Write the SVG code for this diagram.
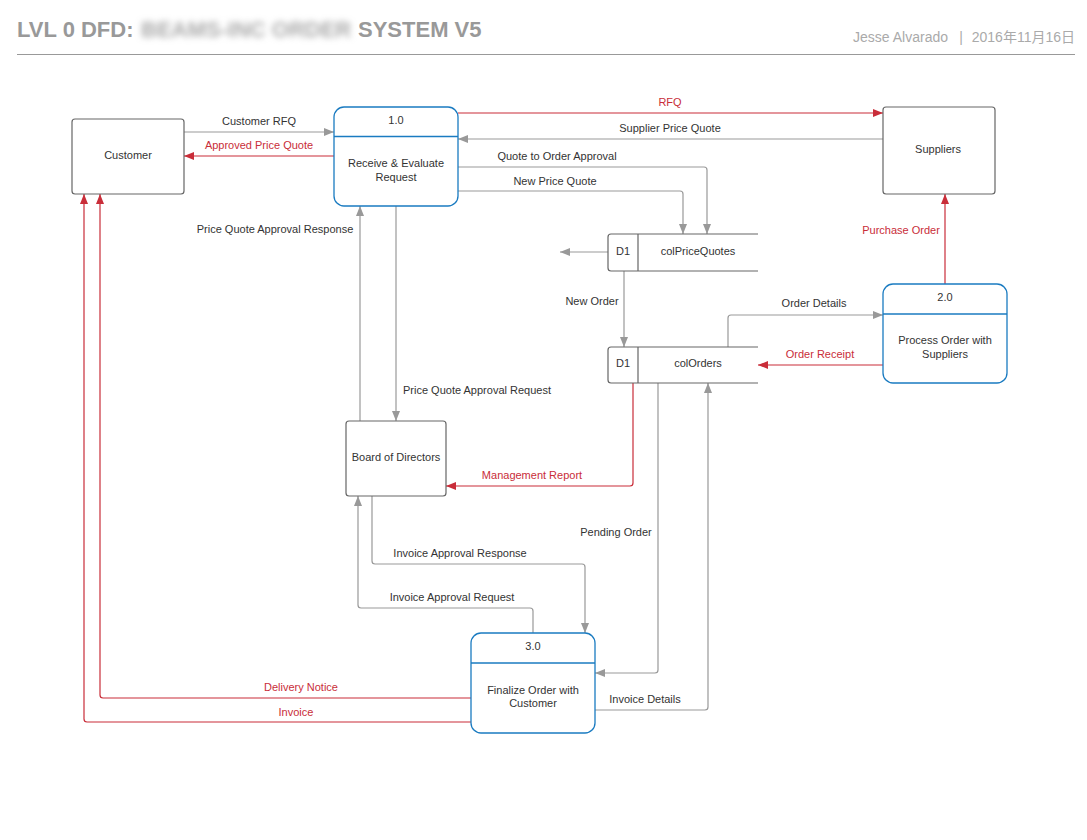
<svg xmlns="http://www.w3.org/2000/svg" width="1087" height="840" viewBox="0 0 1087 840">
<style>
text{font-family:"Liberation Sans",Arial,sans-serif;}
.t{font-size:11px;fill:#333;text-anchor:middle;}
.r{font-size:11px;fill:#c92d39;text-anchor:middle;}
.box{fill:#fff;stroke:#666;stroke-width:1.2;}
.proc{fill:#fff;stroke:#1a7bc1;stroke-width:1.3;}
.g{fill:none;stroke:#999;stroke-width:1.2;marker-end:url(#ag);}
.red{fill:none;stroke:#c92d39;stroke-width:1.2;marker-end:url(#ar);}
.ds{fill:none;stroke:#666;stroke-width:1.2;}
.hd{font-size:14px;fill:#aaa;}
</style>
<defs>
<marker id="ag" viewBox="0 0 10 8" refX="10" refY="4" markerWidth="10" markerHeight="8" markerUnits="userSpaceOnUse" orient="auto"><path d="M0,0L10,4L0,8z" fill="#999"/></marker>
<marker id="ar" viewBox="0 0 10 8" refX="10" refY="4" markerWidth="10" markerHeight="8" markerUnits="userSpaceOnUse" orient="auto"><path d="M0,0L10,4L0,8z" fill="#c92d39"/></marker>
<filter id="blur" x="-10%" y="-50%" width="120%" height="200%"><feGaussianBlur stdDeviation="3"/></filter>
</defs>
<rect width="1087" height="840" fill="#fff"/>
<g id="header">
<text x="17" y="37" font-size="22" font-weight="bold" fill="#999">LVL 0 DFD:</text>
<text x="141" y="37" font-size="22" font-weight="bold" fill="#aaa" filter="url(#blur)">BEAMS-INC ORDER</text>
<text x="358" y="37" font-size="22" font-weight="bold" fill="#999">SYSTEM V5</text>
<text class="hd" x="948" y="42" text-anchor="end">Jesse Alvarado</text>
<text class="hd" x="961" y="42" text-anchor="middle">|</text>
<text class="hd" x="1075" y="42" text-anchor="end" style="font-family:'Liberation Sans','Noto Sans CJK SC',sans-serif">2016年11月16日</text>
<line x1="17" y1="54.5" x2="1075" y2="54.5" stroke="#999" stroke-width="1.2"/>
</g>
<g id="connectors">
<path class="g" d="M184,132H334"/>
<path class="red" d="M334,156H184"/>
<path class="red" d="M458,113H883"/>
<path class="g" d="M883,139H458"/>
<path class="g" d="M458,167H704Q707,167 707,170V234"/>
<path class="g" d="M458,191H680Q683,191 683,194V234"/>
<path class="g" d="M608,252H560"/>
<path class="g" d="M624,271V347"/>
<path class="g" d="M728,347V318Q728,315 731,315H883"/>
<path class="red" d="M883,365H758"/>
<path class="red" d="M945,284V194"/>
<path class="g" d="M360,421V206"/>
<path class="g" d="M396,206V421"/>
<path class="red" d="M633,383V483Q633,486 630,486H446"/>
<path class="g" d="M658,383V670Q658,673 655,673H595"/>
<path class="g" d="M595,710H705Q708,710 708,707V383"/>
<path class="g" d="M372,496V561Q372,564 375,564H582Q585,564 585,567V633"/>
<path class="g" d="M533,633V611Q533,608 530,608H361Q358,608 358,605V496"/>
<path class="red" d="M471,698H103Q100,698 100,695V194"/>
<path class="red" d="M471,722H87Q84,722 84,719V194"/>
<text class="t" x="259" y="125">Customer RFQ</text>
<text class="r" x="259" y="149">Approved Price Quote</text>
<text class="r" x="670" y="106">RFQ</text>
<text class="t" x="670" y="132">Supplier Price Quote</text>
<text class="t" x="557" y="160">Quote to Order Approval</text>
<text class="t" x="555" y="185">New Price Quote</text>
<text class="t" x="592" y="305">New Order</text>
<text class="t" x="814" y="307">Order Details</text>
<text class="r" x="820" y="358">Order Receipt</text>
<text class="r" x="901" y="234">Purchase Order</text>
<text class="t" x="275" y="233">Price Quote Approval Response</text>
<text class="t" x="477" y="394">Price Quote Approval Request</text>
<text class="r" x="532" y="479">Management Report</text>
<text class="t" x="616" y="536">Pending Order</text>
<text class="t" x="645" y="703">Invoice Details</text>
<text class="t" x="460" y="557">Invoice Approval Response</text>
<text class="t" x="452" y="601">Invoice Approval Request</text>
<text class="r" x="301" y="691">Delivery Notice</text>
<text class="r" x="296" y="716">Invoice</text>
</g>
<g id="customer">
<rect class="box" x="72" y="119" width="112" height="75" rx="3"/>
<text class="t" x="128" y="159">Customer</text>
</g>
<g id="p1">
<rect class="proc" x="334" y="107" width="124" height="99" rx="10"/>
<line x1="334" y1="136.5" x2="458" y2="136.5" stroke="#1a7bc1" stroke-width="1.3"/>
<text class="t" x="396" y="124">1.0</text>
<text class="t" x="396" y="167">Receive &amp; Evaluate</text>
<text class="t" x="396" y="181">Request</text>
</g>
<g id="suppliers">
<rect class="box" x="883" y="107" width="112" height="87" rx="3"/>
<text class="t" x="938" y="153">Suppliers</text>
</g>
<g id="d1prices">
<path class="ds" d="M758,234H611Q608,234 608,237V268Q608,271 611,271H758M638,234V271"/>
<text class="t" x="623" y="255">D1</text>
<text class="t" x="698" y="255">colPriceQuotes</text>
</g>
<g id="d1orders">
<path class="ds" d="M758,347H611Q608,347 608,350V380Q608,383 611,383H758M638,347V383"/>
<text class="t" x="623" y="367">D1</text>
<text class="t" x="698" y="367">colOrders</text>
</g>
<g id="p2">
<rect class="proc" x="883" y="284" width="124" height="99" rx="10"/>
<line x1="883" y1="314" x2="1007" y2="314" stroke="#1a7bc1" stroke-width="1.3"/>
<text class="t" x="945" y="301">2.0</text>
<text class="t" x="945" y="344">Process Order with</text>
<text class="t" x="945" y="358">Suppliers</text>
</g>
<g id="board">
<rect class="box" x="346" y="421" width="100" height="75" rx="3"/>
<text class="t" x="396" y="461">Board of Directors</text>
</g>
<g id="p3">
<rect class="proc" x="471" y="633" width="124" height="100" rx="10"/>
<line x1="471" y1="663" x2="595" y2="663" stroke="#1a7bc1" stroke-width="1.3"/>
<text class="t" x="533" y="650">3.0</text>
<text class="t" x="533" y="694">Finalize Order with</text>
<text class="t" x="533" y="707">Customer</text>
</g>
</svg>
